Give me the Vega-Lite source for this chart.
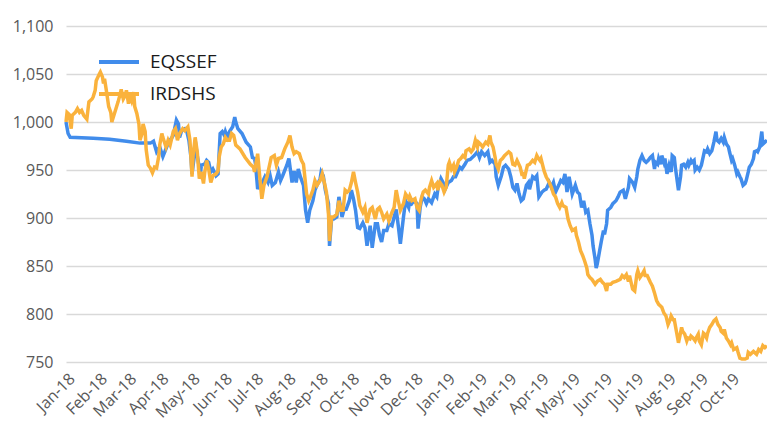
{
"$schema": "https://vega.github.io/schema/vega-lite/v6.json",
"width": 701, "height": 336,
"autosize": {"type": "none"},
"padding": {"left": 66, "top": 26, "right": 0, "bottom": 60},
"background": "white",
"config": {"view": {"stroke": null}, "font": "Open Sans"},
"datasets": {
"EQSSEF": [
{"date":"2018-01-01","value":1000},{"date":"2018-01-03","value":988},{"date":"2018-01-05","value":984},{"date":"2018-01-27","value":983},{"date":"2018-02-12","value":982},{"date":"2018-02-28","value":980},{"date":"2018-03-13","value":978},{"date":"2018-03-23","value":978},{"date":"2018-03-26","value":980},{"date":"2018-03-29","value":969},{"date":"2018-04-01","value":974},{"date":"2018-04-04","value":964},{"date":"2018-04-08","value":975},{"date":"2018-04-11","value":981},{"date":"2018-04-14","value":986},{"date":"2018-04-17","value":1002},{"date":"2018-04-19","value":998},{"date":"2018-04-20","value":984},{"date":"2018-04-22","value":991},{"date":"2018-04-25","value":993},{"date":"2018-04-27","value":990},{"date":"2018-04-29","value":981},{"date":"2018-05-01","value":963},{"date":"2018-05-02","value":946},{"date":"2018-05-04","value":963},{"date":"2018-05-05","value":981},{"date":"2018-05-07","value":965},{"date":"2018-05-10","value":946},{"date":"2018-05-11","value":955},{"date":"2018-05-14","value":956},{"date":"2018-05-16","value":960},{"date":"2018-05-18","value":958},{"date":"2018-05-20","value":948},{"date":"2018-05-22","value":951},{"date":"2018-05-25","value":944},{"date":"2018-05-27","value":946},{"date":"2018-05-29","value":988},{"date":"2018-05-31","value":990},{"date":"2018-06-02","value":986},{"date":"2018-06-03","value":990},{"date":"2018-06-05","value":984},{"date":"2018-06-07","value":990},{"date":"2018-06-10","value":995},{"date":"2018-06-12","value":1005},{"date":"2018-06-13","value":1000},{"date":"2018-06-15","value":993},{"date":"2018-06-19","value":988},{"date":"2018-06-23","value":979},{"date":"2018-06-27","value":974},{"date":"2018-06-29","value":963},{"date":"2018-07-01","value":962},{"date":"2018-07-02","value":956},{"date":"2018-07-04","value":930},{"date":"2018-07-06","value":937},{"date":"2018-07-08","value":936},{"date":"2018-07-11","value":943},{"date":"2018-07-14","value":937},{"date":"2018-07-16","value":944},{"date":"2018-07-18","value":934},{"date":"2018-07-21","value":937},{"date":"2018-07-24","value":948},{"date":"2018-07-26","value":939},{"date":"2018-07-28","value":944},{"date":"2018-08-01","value":955},{"date":"2018-08-03","value":962},{"date":"2018-08-06","value":937},{"date":"2018-08-08","value":949},{"date":"2018-08-10","value":937},{"date":"2018-08-12","value":951},{"date":"2018-08-14","value":943},{"date":"2018-08-17","value":934},{"date":"2018-08-19","value":908},{"date":"2018-08-21","value":895},{"date":"2018-08-23","value":908},{"date":"2018-08-26","value":918},{"date":"2018-08-28","value":929},{"date":"2018-08-30","value":934},{"date":"2018-09-02","value":941},{"date":"2018-09-03","value":948},{"date":"2018-09-05","value":944},{"date":"2018-09-07","value":929},{"date":"2018-09-10","value":915},{"date":"2018-09-11","value":871},{"date":"2018-09-13","value":899},{"date":"2018-09-15","value":899},{"date":"2018-09-18","value":901},{"date":"2018-09-20","value":922},{"date":"2018-09-23","value":901},{"date":"2018-09-25","value":909},{"date":"2018-09-27","value":909},{"date":"2018-09-30","value":918},{"date":"2018-10-02","value":929},{"date":"2018-10-04","value":920},{"date":"2018-10-06","value":908},{"date":"2018-10-08","value":890},{"date":"2018-10-10","value":889},{"date":"2018-10-13","value":895},{"date":"2018-10-15","value":890},{"date":"2018-10-17","value":871},{"date":"2018-10-20","value":892},{"date":"2018-10-22","value":869},{"date":"2018-10-25","value":894},{"date":"2018-10-27","value":894},{"date":"2018-10-29","value":882},{"date":"2018-10-31","value":875},{"date":"2018-11-02","value":887},{"date":"2018-11-05","value":887},{"date":"2018-11-07","value":894},{"date":"2018-11-10","value":892},{"date":"2018-11-12","value":901},{"date":"2018-11-14","value":909},{"date":"2018-11-16","value":892},{"date":"2018-11-18","value":873},{"date":"2018-11-21","value":901},{"date":"2018-11-23","value":918},{"date":"2018-11-26","value":911},{"date":"2018-11-27","value":918},{"date":"2018-11-29","value":915},{"date":"2018-12-01","value":918},{"date":"2018-12-04","value":915},{"date":"2018-12-05","value":889},{"date":"2018-12-07","value":911},{"date":"2018-12-09","value":922},{"date":"2018-12-11","value":920},{"date":"2018-12-13","value":915},{"date":"2018-12-15","value":920},{"date":"2018-12-18","value":916},{"date":"2018-12-21","value":925},{"date":"2018-12-23","value":922},{"date":"2018-12-24","value":930},{"date":"2018-12-27","value":941},{"date":"2018-12-29","value":937},{"date":"2018-12-31","value":930},{"date":"2019-01-03","value":937},{"date":"2019-01-06","value":939},{"date":"2019-01-08","value":943},{"date":"2019-01-10","value":943},{"date":"2019-01-12","value":948},{"date":"2019-01-14","value":953},{"date":"2019-01-16","value":951},{"date":"2019-01-19","value":956},{"date":"2019-01-21","value":960},{"date":"2019-01-24","value":961},{"date":"2019-01-26","value":963},{"date":"2019-01-28","value":965},{"date":"2019-01-31","value":969},{"date":"2019-02-02","value":963},{"date":"2019-02-04","value":969},{"date":"2019-02-07","value":965},{"date":"2019-02-10","value":969},{"date":"2019-02-12","value":958},{"date":"2019-02-14","value":960},{"date":"2019-02-17","value":956},{"date":"2019-02-18","value":943},{"date":"2019-02-20","value":934},{"date":"2019-02-23","value":944},{"date":"2019-02-25","value":953},{"date":"2019-02-27","value":955},{"date":"2019-03-02","value":951},{"date":"2019-03-04","value":943},{"date":"2019-03-06","value":932},{"date":"2019-03-08","value":929},{"date":"2019-03-10","value":936},{"date":"2019-03-12","value":925},{"date":"2019-03-14","value":918},{"date":"2019-03-16","value":920},{"date":"2019-03-19","value":934},{"date":"2019-03-21","value":937},{"date":"2019-03-22","value":930},{"date":"2019-03-25","value":943},{"date":"2019-03-27","value":941},{"date":"2019-03-29","value":944},{"date":"2019-03-31","value":922},{"date":"2019-04-03","value":927},{"date":"2019-04-05","value":929},{"date":"2019-04-07","value":930},{"date":"2019-04-10","value":937},{"date":"2019-04-12","value":932},{"date":"2019-04-14","value":937},{"date":"2019-04-16","value":927},{"date":"2019-04-19","value":934},{"date":"2019-04-21","value":939},{"date":"2019-04-23","value":937},{"date":"2019-04-25","value":946},{"date":"2019-04-27","value":927},{"date":"2019-04-29","value":943},{"date":"2019-04-30","value":937},{"date":"2019-05-02","value":925},{"date":"2019-05-05","value":934},{"date":"2019-05-07","value":927},{"date":"2019-05-09","value":925},{"date":"2019-05-11","value":911},{"date":"2019-05-13","value":918},{"date":"2019-05-15","value":906},{"date":"2019-05-17","value":908},{"date":"2019-05-19","value":894},{"date":"2019-05-21","value":882},{"date":"2019-05-22","value":871},{"date":"2019-05-24","value":857},{"date":"2019-05-25","value":848},{"date":"2019-05-26","value":852},{"date":"2019-05-28","value":864},{"date":"2019-05-30","value":876},{"date":"2019-06-01","value":887},{"date":"2019-06-02","value":883},{"date":"2019-06-04","value":894},{"date":"2019-06-05","value":908},{"date":"2019-06-08","value":911},{"date":"2019-06-10","value":915},{"date":"2019-06-13","value":918},{"date":"2019-06-15","value":922},{"date":"2019-06-17","value":927},{"date":"2019-06-20","value":929},{"date":"2019-06-22","value":920},{"date":"2019-06-25","value":932},{"date":"2019-06-26","value":941},{"date":"2019-06-29","value":937},{"date":"2019-07-01","value":932},{"date":"2019-07-03","value":943},{"date":"2019-07-04","value":951},{"date":"2019-07-06","value":960},{"date":"2019-07-08","value":965},{"date":"2019-07-10","value":960},{"date":"2019-07-12","value":958},{"date":"2019-07-14","value":960},{"date":"2019-07-16","value":963},{"date":"2019-07-18","value":965},{"date":"2019-07-20","value":951},{"date":"2019-07-21","value":958},{"date":"2019-07-23","value":956},{"date":"2019-07-24","value":962},{"date":"2019-07-26","value":956},{"date":"2019-07-27","value":965},{"date":"2019-07-29","value":958},{"date":"2019-07-30","value":962},{"date":"2019-08-01","value":946},{"date":"2019-08-03","value":955},{"date":"2019-08-05","value":948},{"date":"2019-08-06","value":965},{"date":"2019-08-08","value":963},{"date":"2019-08-09","value":953},{"date":"2019-08-11","value":937},{"date":"2019-08-12","value":929},{"date":"2019-08-14","value":943},{"date":"2019-08-15","value":955},{"date":"2019-08-17","value":956},{"date":"2019-08-19","value":953},{"date":"2019-08-21","value":958},{"date":"2019-08-22","value":955},{"date":"2019-08-24","value":960},{"date":"2019-08-25","value":958},{"date":"2019-08-27","value":960},{"date":"2019-08-28","value":950},{"date":"2019-08-30","value":953},{"date":"2019-09-01","value":950},{"date":"2019-09-03","value":955},{"date":"2019-09-05","value":965},{"date":"2019-09-06","value":970},{"date":"2019-09-08","value":969},{"date":"2019-09-09","value":972},{"date":"2019-09-11","value":967},{"date":"2019-09-13","value":970},{"date":"2019-09-15","value":979},{"date":"2019-09-17","value":990},{"date":"2019-09-18","value":981},{"date":"2019-09-20","value":979},{"date":"2019-09-22","value":983},{"date":"2019-09-24","value":979},{"date":"2019-09-25","value":984},{"date":"2019-09-27","value":977},{"date":"2019-09-29","value":974},{"date":"2019-09-30","value":969},{"date":"2019-10-02","value":960},{"date":"2019-10-03","value":962},{"date":"2019-10-05","value":955},{"date":"2019-10-07","value":946},{"date":"2019-10-08","value":948},{"date":"2019-10-10","value":943},{"date":"2019-10-11","value":941},{"date":"2019-10-13","value":934},{"date":"2019-10-15","value":936},{"date":"2019-10-16","value":939},{"date":"2019-10-18","value":948},{"date":"2019-10-19","value":953},{"date":"2019-10-21","value":956},{"date":"2019-10-23","value":962},{"date":"2019-10-24","value":969},{"date":"2019-10-26","value":970},{"date":"2019-10-27","value":969},{"date":"2019-10-29","value":974},{"date":"2019-10-31","value":990},{"date":"2019-11-01","value":977},{"date":"2019-11-03","value":979},{"date":"2019-11-05","value":981}
],
"IRDSHS": [
{"date":"2018-01-01","value":1000},{"date":"2018-01-02","value":1010},{"date":"2018-01-04","value":1008},{"date":"2018-01-06","value":993},{"date":"2018-01-07","value":1007},{"date":"2018-01-10","value":1010},{"date":"2018-01-12","value":1014},{"date":"2018-01-14","value":1010},{"date":"2018-01-16","value":1012},{"date":"2018-01-18","value":1007},{"date":"2018-01-21","value":1003},{"date":"2018-01-23","value":1021},{"date":"2018-01-26","value":1024},{"date":"2018-01-27","value":1026},{"date":"2018-01-29","value":1033},{"date":"2018-01-30","value":1043},{"date":"2018-02-02","value":1050},{"date":"2018-02-03","value":1052},{"date":"2018-02-05","value":1047},{"date":"2018-02-06","value":1040},{"date":"2018-02-07","value":1045},{"date":"2018-02-09","value":1031},{"date":"2018-02-11","value":1016},{"date":"2018-02-13","value":1010},{"date":"2018-02-14","value":1000},{"date":"2018-02-16","value":1007},{"date":"2018-02-18","value":1014},{"date":"2018-02-20","value":1021},{"date":"2018-02-22","value":1029},{"date":"2018-02-23","value":1034},{"date":"2018-02-25","value":1024},{"date":"2018-02-27","value":1028},{"date":"2018-02-28","value":1033},{"date":"2018-03-02","value":1019},{"date":"2018-03-03","value":1028},{"date":"2018-03-05","value":1022},{"date":"2018-03-07","value":1031},{"date":"2018-03-08","value":1016},{"date":"2018-03-10","value":1009},{"date":"2018-03-12","value":998},{"date":"2018-03-13","value":981},{"date":"2018-03-15","value":988},{"date":"2018-03-16","value":998},{"date":"2018-03-18","value":990},{"date":"2018-03-19","value":971},{"date":"2018-03-21","value":955},{"date":"2018-03-23","value":952},{"date":"2018-03-25","value":947},{"date":"2018-03-27","value":953},{"date":"2018-03-29","value":952},{"date":"2018-03-31","value":964},{"date":"2018-04-01","value":976},{"date":"2018-04-03","value":988},{"date":"2018-04-04","value":984},{"date":"2018-04-07","value":974},{"date":"2018-04-09","value":981},{"date":"2018-04-11","value":976},{"date":"2018-04-14","value":990},{"date":"2018-04-16","value":993},{"date":"2018-04-18","value":981},{"date":"2018-04-20","value":988},{"date":"2018-04-23","value":993},{"date":"2018-04-25","value":991},{"date":"2018-04-28","value":995},{"date":"2018-04-30","value":981},{"date":"2018-05-02","value":943},{"date":"2018-05-03","value":965},{"date":"2018-05-05","value":984},{"date":"2018-05-07","value":969},{"date":"2018-05-09","value":941},{"date":"2018-05-11","value":948},{"date":"2018-05-13","value":936},{"date":"2018-05-14","value":946},{"date":"2018-05-16","value":960},{"date":"2018-05-18","value":951},{"date":"2018-05-20","value":937},{"date":"2018-05-22","value":944},{"date":"2018-05-25","value":946},{"date":"2018-05-27","value":949},{"date":"2018-05-28","value":963},{"date":"2018-05-30","value":974},{"date":"2018-06-01","value":977},{"date":"2018-06-03","value":984},{"date":"2018-06-05","value":981},{"date":"2018-06-07","value":981},{"date":"2018-06-09","value":988},{"date":"2018-06-11","value":986},{"date":"2018-06-13","value":976},{"date":"2018-06-17","value":972},{"date":"2018-06-22","value":963},{"date":"2018-06-27","value":956},{"date":"2018-06-30","value":953},{"date":"2018-07-01","value":948},{"date":"2018-07-04","value":967},{"date":"2018-07-06","value":943},{"date":"2018-07-08","value":920},{"date":"2018-07-10","value":934},{"date":"2018-07-13","value":943},{"date":"2018-07-15","value":953},{"date":"2018-07-17","value":963},{"date":"2018-07-20","value":965},{"date":"2018-07-22","value":955},{"date":"2018-07-24","value":962},{"date":"2018-07-27","value":963},{"date":"2018-07-30","value":972},{"date":"2018-08-02","value":979},{"date":"2018-08-04","value":986},{"date":"2018-08-06","value":974},{"date":"2018-08-08","value":967},{"date":"2018-08-10","value":969},{"date":"2018-08-13","value":967},{"date":"2018-08-15","value":960},{"date":"2018-08-17","value":956},{"date":"2018-08-20","value":925},{"date":"2018-08-22","value":918},{"date":"2018-08-24","value":923},{"date":"2018-08-26","value":929},{"date":"2018-08-28","value":939},{"date":"2018-08-30","value":934},{"date":"2018-09-02","value":939},{"date":"2018-09-04","value":946},{"date":"2018-09-06","value":937},{"date":"2018-09-08","value":927},{"date":"2018-09-10","value":904},{"date":"2018-09-11","value":876},{"date":"2018-09-13","value":901},{"date":"2018-09-15","value":901},{"date":"2018-09-18","value":904},{"date":"2018-09-20","value":918},{"date":"2018-09-22","value":908},{"date":"2018-09-24","value":908},{"date":"2018-09-26","value":929},{"date":"2018-09-28","value":927},{"date":"2018-09-30","value":929},{"date":"2018-10-02","value":937},{"date":"2018-10-04","value":948},{"date":"2018-10-06","value":937},{"date":"2018-10-08","value":927},{"date":"2018-10-10","value":913},{"date":"2018-10-13","value":906},{"date":"2018-10-15","value":911},{"date":"2018-10-17","value":895},{"date":"2018-10-20","value":909},{"date":"2018-10-22","value":911},{"date":"2018-10-25","value":899},{"date":"2018-10-27","value":909},{"date":"2018-10-29","value":911},{"date":"2018-10-31","value":906},{"date":"2018-11-02","value":899},{"date":"2018-11-05","value":904},{"date":"2018-11-07","value":897},{"date":"2018-11-10","value":906},{"date":"2018-11-12","value":911},{"date":"2018-11-14","value":929},{"date":"2018-11-16","value":918},{"date":"2018-11-18","value":908},{"date":"2018-11-21","value":915},{"date":"2018-11-23","value":925},{"date":"2018-11-26","value":920},{"date":"2018-11-27","value":923},{"date":"2018-11-29","value":918},{"date":"2018-12-02","value":920},{"date":"2018-12-04","value":911},{"date":"2018-12-06","value":908},{"date":"2018-12-08","value":920},{"date":"2018-12-10","value":927},{"date":"2018-12-12","value":929},{"date":"2018-12-15","value":925},{"date":"2018-12-16","value":932},{"date":"2018-12-18","value":939},{"date":"2018-12-20","value":932},{"date":"2018-12-23","value":936},{"date":"2018-12-24","value":929},{"date":"2018-12-26","value":937},{"date":"2018-12-28","value":934},{"date":"2018-12-30","value":927},{"date":"2019-01-01","value":932},{"date":"2019-01-03","value":955},{"date":"2019-01-04","value":958},{"date":"2019-01-06","value":951},{"date":"2019-01-08","value":955},{"date":"2019-01-09","value":948},{"date":"2019-01-11","value":953},{"date":"2019-01-13","value":960},{"date":"2019-01-15","value":962},{"date":"2019-01-17","value":965},{"date":"2019-01-19","value":963},{"date":"2019-01-20","value":970},{"date":"2019-01-23","value":972},{"date":"2019-01-25","value":969},{"date":"2019-01-27","value":972},{"date":"2019-01-29","value":981},{"date":"2019-01-31","value":974},{"date":"2019-02-01","value":979},{"date":"2019-02-03","value":977},{"date":"2019-02-05","value":974},{"date":"2019-02-08","value":979},{"date":"2019-02-10","value":977},{"date":"2019-02-12","value":986},{"date":"2019-02-13","value":979},{"date":"2019-02-15","value":974},{"date":"2019-02-17","value":963},{"date":"2019-02-18","value":956},{"date":"2019-02-20","value":951},{"date":"2019-02-22","value":960},{"date":"2019-02-24","value":962},{"date":"2019-02-26","value":965},{"date":"2019-02-28","value":967},{"date":"2019-03-02","value":969},{"date":"2019-03-04","value":967},{"date":"2019-03-06","value":956},{"date":"2019-03-08","value":955},{"date":"2019-03-10","value":960},{"date":"2019-03-13","value":953},{"date":"2019-03-15","value":944},{"date":"2019-03-16","value":948},{"date":"2019-03-17","value":941},{"date":"2019-03-20","value":955},{"date":"2019-03-22","value":956},{"date":"2019-03-25","value":960},{"date":"2019-03-27","value":958},{"date":"2019-03-29","value":965},{"date":"2019-03-30","value":963},{"date":"2019-04-01","value":960},{"date":"2019-04-02","value":962},{"date":"2019-04-05","value":949},{"date":"2019-04-07","value":943},{"date":"2019-04-10","value":937},{"date":"2019-04-12","value":932},{"date":"2019-04-14","value":925},{"date":"2019-04-16","value":922},{"date":"2019-04-18","value":915},{"date":"2019-04-20","value":911},{"date":"2019-04-22","value":916},{"date":"2019-04-23","value":913},{"date":"2019-04-26","value":911},{"date":"2019-04-28","value":899},{"date":"2019-04-30","value":892},{"date":"2019-05-02","value":887},{"date":"2019-05-05","value":889},{"date":"2019-05-06","value":882},{"date":"2019-05-08","value":875},{"date":"2019-05-10","value":866},{"date":"2019-05-12","value":861},{"date":"2019-05-14","value":855},{"date":"2019-05-16","value":848},{"date":"2019-05-17","value":841},{"date":"2019-05-19","value":838},{"date":"2019-05-21","value":836},{"date":"2019-05-24","value":831},{"date":"2019-05-26","value":834},{"date":"2019-05-29","value":836},{"date":"2019-05-31","value":833},{"date":"2019-06-02","value":831},{"date":"2019-06-04","value":824},{"date":"2019-06-05","value":831},{"date":"2019-06-08","value":831},{"date":"2019-06-10","value":833},{"date":"2019-06-13","value":834},{"date":"2019-06-17","value":836},{"date":"2019-06-19","value":840},{"date":"2019-06-21","value":838},{"date":"2019-06-23","value":841},{"date":"2019-06-25","value":834},{"date":"2019-06-26","value":840},{"date":"2019-06-29","value":826},{"date":"2019-07-01","value":824},{"date":"2019-07-03","value":841},{"date":"2019-07-04","value":845},{"date":"2019-07-06","value":838},{"date":"2019-07-08","value":841},{"date":"2019-07-10","value":845},{"date":"2019-07-11","value":840},{"date":"2019-07-13","value":840},{"date":"2019-07-16","value":833},{"date":"2019-07-18","value":829},{"date":"2019-07-20","value":822},{"date":"2019-07-22","value":814},{"date":"2019-07-24","value":810},{"date":"2019-07-27","value":807},{"date":"2019-07-29","value":801},{"date":"2019-07-31","value":798},{"date":"2019-08-02","value":789},{"date":"2019-08-04","value":794},{"date":"2019-08-05","value":798},{"date":"2019-08-07","value":794},{"date":"2019-08-08","value":794},{"date":"2019-08-10","value":782},{"date":"2019-08-12","value":770},{"date":"2019-08-13","value":775},{"date":"2019-08-15","value":786},{"date":"2019-08-16","value":782},{"date":"2019-08-18","value":779},{"date":"2019-08-20","value":772},{"date":"2019-08-21","value":775},{"date":"2019-08-23","value":774},{"date":"2019-08-24","value":777},{"date":"2019-08-26","value":775},{"date":"2019-08-28","value":772},{"date":"2019-08-29","value":775},{"date":"2019-08-31","value":779},{"date":"2019-09-01","value":772},{"date":"2019-09-03","value":768},{"date":"2019-09-05","value":780},{"date":"2019-09-06","value":779},{"date":"2019-09-08","value":775},{"date":"2019-09-09","value":780},{"date":"2019-09-11","value":786},{"date":"2019-09-13","value":789},{"date":"2019-09-15","value":793},{"date":"2019-09-17","value":795},{"date":"2019-09-19","value":789},{"date":"2019-09-21","value":786},{"date":"2019-09-22","value":782},{"date":"2019-09-24","value":780},{"date":"2019-09-25","value":784},{"date":"2019-09-27","value":775},{"date":"2019-09-29","value":772},{"date":"2019-10-01","value":768},{"date":"2019-10-02","value":770},{"date":"2019-10-04","value":763},{"date":"2019-10-07","value":765},{"date":"2019-10-08","value":761},{"date":"2019-10-10","value":754},{"date":"2019-10-12","value":753},{"date":"2019-10-15","value":753},{"date":"2019-10-17","value":754},{"date":"2019-10-18","value":760},{"date":"2019-10-20","value":758},{"date":"2019-10-23","value":761},{"date":"2019-10-24","value":760},{"date":"2019-10-26","value":758},{"date":"2019-10-28","value":763},{"date":"2019-10-30","value":761},{"date":"2019-11-01","value":767},{"date":"2019-11-03","value":765},{"date":"2019-11-05","value":767}
]
},
"encoding": {
  "x": {"field": "date", "type": "temporal", "scale": {"type": "utc", "nice": false, "domain": [{"year": 2018, "month": 1, "date": 1, "utc": true}, {"year": 2019, "month": 11, "date": 5, "utc": true}]},
    "axis": {"title": null, "labelExpr": "utcFormat(datum.value, '%b-%y')", "labelAngle": -45, "labelAlign": "right", "labelBaseline": "middle", "labelOverlap": false, "labelFontSize": 16, "labelColor": "#595959", "labelFont": "Open Sans", "domain": false, "ticks": false, "grid": false, "labelPadding": 14, "labelOffset": 6, "labelBound": false,
      "values": [{"year":2018,"month":1,"date":1,"utc":true},{"year":2018,"month":2,"date":1,"utc":true},{"year":2018,"month":3,"date":1,"utc":true},{"year":2018,"month":4,"date":1,"utc":true},{"year":2018,"month":5,"date":1,"utc":true},{"year":2018,"month":6,"date":1,"utc":true},{"year":2018,"month":7,"date":1,"utc":true},{"year":2018,"month":8,"date":1,"utc":true},{"year":2018,"month":9,"date":1,"utc":true},{"year":2018,"month":10,"date":1,"utc":true},{"year":2018,"month":11,"date":1,"utc":true},{"year":2018,"month":12,"date":1,"utc":true},{"year":2019,"month":1,"date":1,"utc":true},{"year":2019,"month":2,"date":1,"utc":true},{"year":2019,"month":3,"date":1,"utc":true},{"year":2019,"month":4,"date":1,"utc":true},{"year":2019,"month":5,"date":1,"utc":true},{"year":2019,"month":6,"date":1,"utc":true},{"year":2019,"month":7,"date":1,"utc":true},{"year":2019,"month":8,"date":1,"utc":true},{"year":2019,"month":9,"date":1,"utc":true},{"year":2019,"month":10,"date":1,"utc":true}]}},
  "y": {"field": "value", "type": "quantitative", "scale": {"domain": [750, 1100], "nice": false, "zero": false},
    "axis": {"title": null, "values": [750, 800, 850, 900, 950, 1000, 1050, 1100], "format": ",.0f", "labelFontSize": 16, "labelColor": "#595959", "labelFont": "Open Sans", "domain": false, "ticks": false, "gridColor": "#d9d9d9", "gridWidth": 1.5, "labelPadding": 13}}
},
"layer": [
  {"data": {"name": "EQSSEF"}, "mark": {"type": "line", "strokeWidth": 3.5},
   "encoding": {"color": {"datum": "EQSSEF", "type": "nominal", "scale": {"domain": ["EQSSEF", "IRDSHS"], "range": ["#418CEB", "#FAB23C"]},
    "legend": {"title": null, "orient": "none", "legendX": 31, "legendY": 14, "symbolType": "stroke", "symbolStrokeWidth": 4, "symbolSize": 1600, "labelFontSize": 19, "labelColor": "#1a1a1a", "labelFont": "Open Sans", "labelOffset": 9, "rowPadding": -18}}}},
  {"data": {"name": "IRDSHS"}, "mark": {"type": "line", "strokeWidth": 3.5},
   "encoding": {"color": {"datum": "IRDSHS", "type": "nominal"}}}
]
}
